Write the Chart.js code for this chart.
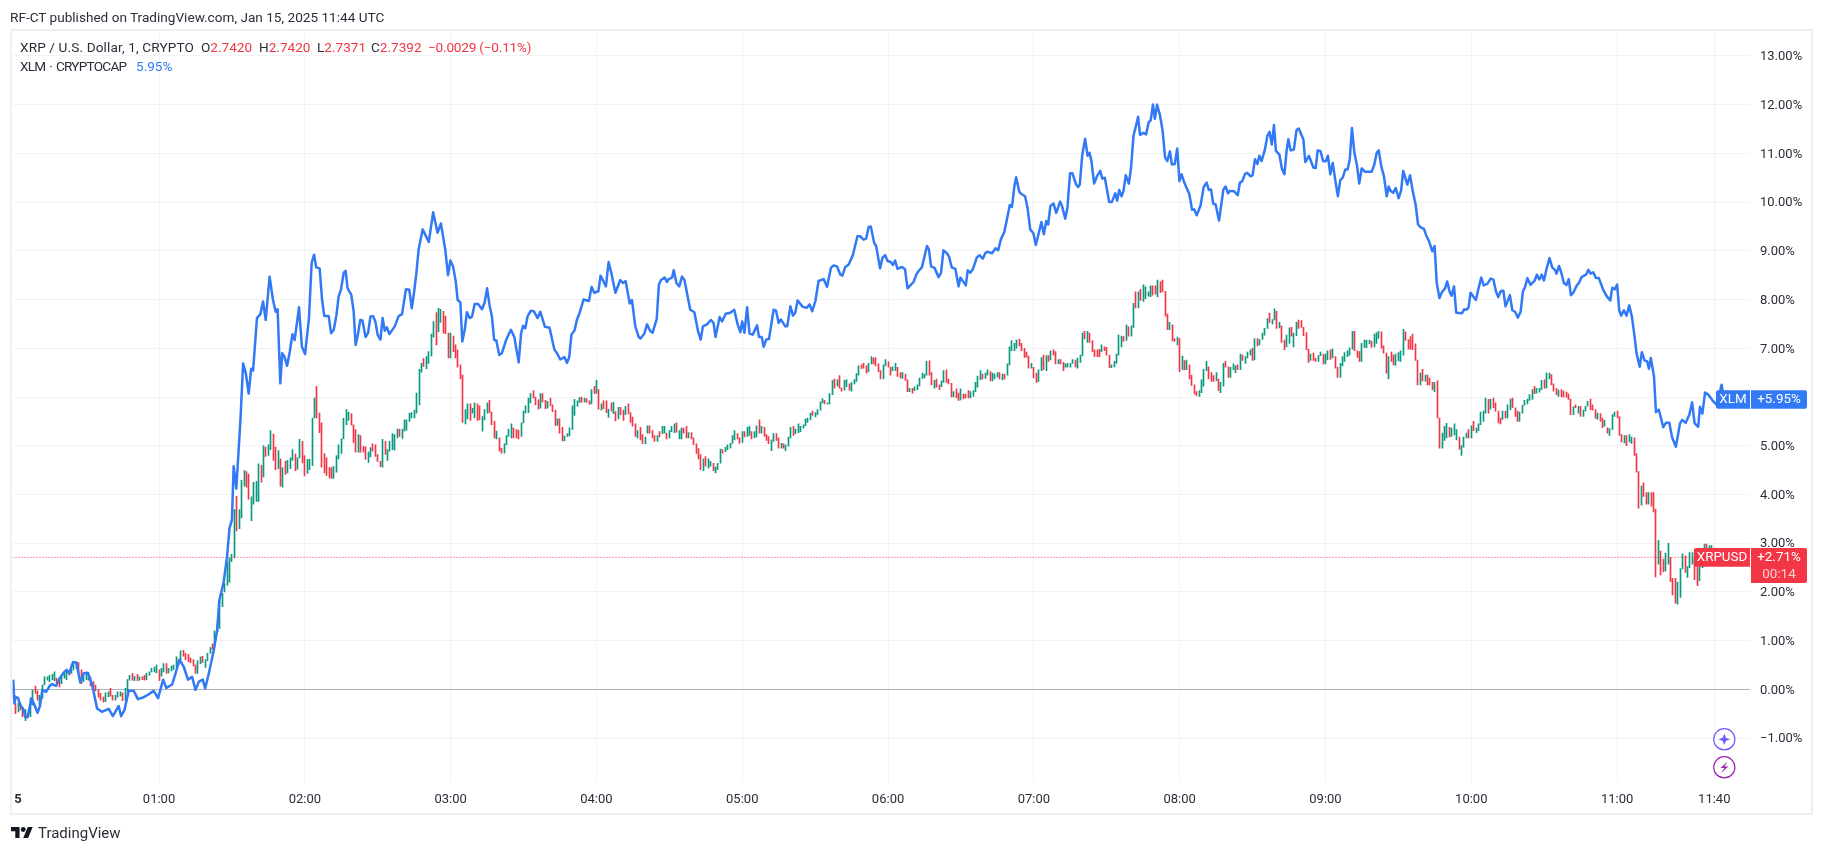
<!DOCTYPE html>
<html><head><meta charset="utf-8">
<script src="https://cdn.jsdelivr.net/npm/chart.js@4"></script>
<style>
html,body{margin:0;padding:0;background:#fff;overflow:hidden}
#wrap{position:relative;width:1824px;height:853px;font-family:Roboto,sans-serif;color:#131722}
canvas{position:absolute;left:0;top:0}
#frame{position:absolute;left:10px;top:29px;width:1799px;height:782px;border:2px solid #eff0f4;pointer-events:none}
.t{position:absolute;white-space:pre;font-size:13.6px;line-height:16px}
.r{color:#f23645}.b{color:#2e7bf6}
</style></head><body>
<div id="wrap">
<canvas id="c" width="1824" height="853"></canvas>
<div id="frame"></div>
<div class="t" style="left:10px;top:9px;color:#2a2e39">RF-CT published on TradingView.com, Jan 15, 2025 11:44 UTC</div>
<div class="t" style="left:20px;top:39px;color:#2a2e39;letter-spacing:.13px">XRP / U.S. Dollar, 1, CRYPTO</div>
<div class="t" style="left:201px;top:39px;color:#2a2e39">O<span class="r">2.7420</span></div>
<div class="t" style="left:259px;top:39px;color:#2a2e39">H<span class="r">2.7420</span></div>
<div class="t" style="left:317px;top:39px;color:#2a2e39">L<span class="r">2.7371</span></div>
<div class="t" style="left:371px;top:39px;color:#2a2e39">C<span class="r">2.7392</span></div>
<div class="t r" style="left:428px;top:39px;letter-spacing:-.2px">−0.0029 (−0.11%)</div>
<div class="t" style="left:20px;top:58px;color:#2a2e39;letter-spacing:-.75px;word-spacing:1.2px">XLM · CRYPTOCAP</div>
<div class="t b" style="left:136px;top:58px">5.95%</div>
<svg style="position:absolute;left:11px;top:827px" width="22" height="11" viewBox="0 4 36 18"><path d="M14 22H7V11H0V4h14v18zM28 22h-8l7.5-18h8L28 22z" fill="#131722"/><circle cx="20" cy="8" r="4" fill="#131722"/></svg>
<div class="t" style="left:38px;top:824px;font-size:15px;line-height:18px;color:#2a2e39">TradingView</div>
<svg style="position:absolute;left:1712px;top:727px" width="25" height="53" viewBox="0 0 25 53">
<circle cx="12.3" cy="12.3" r="10.6" fill="#fff" stroke="#6f5cff" stroke-width="1.2"/>
<path d="M12.3 6.5L13.9 10.7L18.1 12.3L13.9 13.9L12.3 18.1L10.7 13.9L6.5 12.3L10.7 10.7Z" fill="#6f5cff"/>
<circle cx="12.3" cy="40.3" r="10.6" fill="#fff" stroke="#9c27b0" stroke-width="1.2"/>
<path d="M15.5 34.5L8.5 41H12.5L9 46L16.5 39.5H12.5Z" fill="#9c27b0"/>
</svg>
</div>
<script>
const xrpLow=[
-.16,-.5,-.46,-.42,-.56,-.64,-.59,-.56,-.32,-.08,
-.22,-.32,-.18,.09,.19,.16,.2,.18,.14,.05,
.12,.23,.2,.29,.33,.4,.43,.33,.12,.16,
.2,.19,.07,0,-.03,-.16,-.22,-.26,-.25,-.15,
-.14,-.22,-.22,-.16,-.14,-.23,-.23,-.03,.19,.19,
.18,.18,.19,.2,.19,.2,.29,.36,.36,.34,
.18,.27,.36,.33,.34,.38,.41,.46,.5,.61,
.68,.61,.57,.55,.48,.33,.33,.53,.55,.45,
.59,.74,.82,.91,1.18,1.25,1.7,2.0,2.14,2.2,
2.62,2.7,3.25,3.3,3.52,4.17,4.15,3.9,3.46,3.8,
3.86,3.86,4.25,4.36,4.78,4.8,4.92,4.7,4.51,4.53,
4.17,4.15,4.41,4.44,4.53,4.7,4.49,4.52,4.75,4.65,
4.38,4.43,4.51,4.59,5.57,5.57,5.27,4.56,4.44,4.39,
4.34,4.33,4.33,4.46,4.73,4.84,5.14,5.43,5.52,5.42,
5.07,4.87,4.87,4.87,4.87,4.72,4.66,4.77,4.89,4.78,
4.68,4.57,4.56,4.82,4.7,4.89,4.92,4.91,5.16,5.19,
5.15,5.3,5.32,5.5,5.57,5.57,5.67,5.84,6.51,6.63,
6.58,6.69,6.84,7.23,7.07,7.34,7.53,7.31,7.3,6.8,
6.8,6.93,6.8,6.61,6.37,5.48,5.45,5.55,5.52,5.67,
5.57,5.52,5.53,5.3,5.53,5.67,5.68,5.43,5.16,5.14,
4.89,4.85,4.85,5.02,5.19,5.16,5.16,5.16,5.14,5.19,
5.47,5.67,5.68,5.88,5.98,5.84,5.75,5.77,5.9,5.76,
5.77,5.82,5.7,5.41,5.42,5.26,5.1,5.1,5.19,5.2,
5.33,5.62,5.81,5.89,5.89,5.9,5.89,5.85,5.86,6.07,
6.08,5.75,5.73,5.76,5.68,5.58,5.71,5.66,5.51,5.55,
5.64,5.52,5.64,5.66,5.48,5.4,5.19,5.16,5.12,5.04,
5.04,5.26,5.26,5.16,5.09,5.09,5.18,5.25,5.26,5.14,
5.16,5.29,5.27,5.28,5.14,5.14,5.26,5.16,5.16,5.14,
5.02,4.84,4.73,4.51,4.49,4.58,4.54,4.58,4.49,4.44,
4.51,4.64,4.85,4.88,4.92,4.95,5.05,5.12,5.14,5.05,
5.07,5.18,5.19,5.21,5.14,5.16,5.18,5.26,5.26,5.19,
5.11,5.04,4.9,5.09,5.11,4.95,4.95,4.95,4.9,4.99,
5.16,5.21,5.25,5.27,5.29,5.36,5.41,5.48,5.53,5.62,
5.59,5.64,5.73,5.88,5.86,5.86,5.86,6.05,6.18,6.22,
6.18,6.12,6.14,6.21,6.14,6.12,6.27,6.32,6.45,6.58,
6.59,6.49,6.52,6.68,6.68,6.64,6.52,6.37,6.37,6.64,
6.61,6.45,6.54,6.54,6.42,6.39,6.38,6.34,6.11,6.11,
6.08,6.13,6.15,6.23,6.38,6.39,6.45,6.45,6.25,6.18,
6.2,6.15,6.21,6.3,6.3,6.27,6,6,5.98,5.93,
5.94,5.96,5.98,5.98,5.98,6.01,6.11,6.2,6.35,6.37,
6.38,6.45,6.33,6.33,6.37,6.41,6.37,6.35,6.37,6.45,
6.66,6.95,6.95,7,7.05,6.95,6.81,6.82,6.59,6.59,
6.39,6.3,6.32,6.54,6.56,6.54,6.73,6.76,6.86,6.68,
6.68,6.68,6.54,6.61,6.61,6.61,6.69,6.62,6.59,6.71,
6.85,7.19,7.12,7.12,6.93,6.83,6.83,6.83,6.93,6.95,
6.86,6.6,6.6,6.62,6.69,6.86,7.03,7.14,7.16,7.25,
7.25,7.43,7.83,7.83,7.98,7.96,8.02,8.07,8.06,8.09,
8.11,8.06,8.14,8.16,7.66,7.38,7.38,7.15,7.14,7.07,
6.52,6.56,6.56,6.56,6.37,6.24,6.06,6.03,6.01,6.09,
6.22,6.54,6.37,6.32,6.32,6.33,6.13,6.09,6.22,6.61,
6.4,6.4,6.56,6.5,6.56,6.56,6.75,6.69,6.8,6.86,
6.75,6.76,7.05,7.07,7.18,7.27,7.41,7.53,7.5,7.58,
7.41,7.42,7.12,6.97,7.03,7.1,7.25,7.03,7.26,7.41,
7.43,7.26,6.97,6.71,6.75,6.75,6.73,6.73,6.85,6.68,
6.68,6.76,6.77,6.8,6.59,6.4,6.4,6.64,6.73,6.83,
6.86,6.98,6.95,6.81,6.73,6.73,7.02,7.01,7.09,7.02,
7.03,7.1,7.2,7,6.9,6.49,6.37,6.73,6.66,6.65,
6.74,6.73,6.86,7.16,6.98,6.98,6.97,6.75,6.25,6.25,
6.33,6.32,6.25,6.25,6.15,6.11,5.57,4.95,4.95,5.11,
5.16,5.18,5.19,5.22,5.12,4.93,4.8,4.97,5.16,5.16,
5.16,5.31,5.27,5.31,5.43,5.5,5.67,5.67,5.75,5.78,
5.71,5.47,5.45,5.54,5.57,5.57,5.74,5.78,5.6,5.5,
5.5,5.67,5.83,5.86,5.93,5.95,6.07,6.08,6.1,6.15,
6.18,6.18,6.37,6.25,6.12,6.05,6.01,6,6,5.99,
5.95,5.64,5.64,5.78,5.67,5.6,5.6,5.71,5.81,5.74,
5.73,5.56,5.54,5.5,5.37,5.4,5.26,5.21,5.33,5.6,
5.57,5.21,5.08,5.06,5,5.08,5.05,4.8,4.46,3.72,
3.78,3.96,3.8,3.8,3.76,3.64,2.31,2.57,2.35,2.41,
2.43,2.57,2.21,1.94,1.77,1.75,1.89,2.47,2.4,2.3,
2.5,2.57,2.25,2.13,2.23,2.5,2.78,2.91,2.81,2.84,
2.76,2.7,2.72,2.7,2.7];
const xrpHigh=[
.02,-.29,-.27,-.29,-.39,-.41,-.49,-.18,-.01,.07,
-.03,-.12,.09,.26,.26,.29,.31,.36,.23,.2,
.26,.34,.41,.36,.4,.57,.55,.55,.4,.29,
.33,.34,.26,.16,.09,0,-.08,-.16,-.07,-.05,
.02,-.12,-.12,-.05,-.05,-.07,.02,.2,.29,.33,
.27,.31,.26,.26,.29,.33,.36,.43,.46,.5,
.4,.43,.53,.53,.43,.48,.5,.67,.6,.79,
.8,.74,.72,.65,.61,.5,.59,.67,.68,.61,
.74,.86,.93,1.2,1.35,1.83,1.97,2.17,2.62,2.7,
2.77,3.69,3.96,3.69,4.29,4.49,4.47,4.42,3.95,4.25,
4.27,4.63,4.6,5,4.97,5.02,5.31,5.24,4.97,4.9,
4.73,4.55,4.68,4.7,4.75,4.92,4.83,4.75,5.13,5.09,
4.8,4.72,4.72,5.57,5.98,6.22,5.67,5.47,4.84,4.75,
4.55,4.55,4.58,4.8,5.02,5.14,5.56,5.74,5.69,5.66,
5.43,5.33,5.23,5.21,4.99,4.98,4.87,4.96,5.04,5.02,
4.82,4.68,5.13,5.09,4.92,5.09,5.25,5.23,5.34,5.34,
5.34,5.53,5.53,5.67,5.68,5.73,6.08,6.57,6.69,6.79,
6.83,6.93,7.29,7.55,7.73,7.82,7.8,7.76,7.66,7.31,
7.31,7.25,7.07,6.97,6.66,6.45,5.74,5.86,5.86,5.77,
5.88,5.86,5.82,5.6,5.74,5.88,5.93,5.69,5.5,5.3,
5.16,4.95,5.04,5.21,5.34,5.45,5.36,5.33,5.32,5.47,
5.71,5.82,5.98,6.07,6.13,6,5.94,6.07,6.07,5.93,
5.91,5.98,5.84,5.73,5.55,5.55,5.38,5.2,5.25,5.37,
5.82,5.95,5.92,5.99,6,5.98,5.97,5.92,6.15,6.22,
6.34,6.15,5.86,5.92,5.92,5.75,5.88,5.89,5.7,5.79,
5.79,5.73,5.81,5.86,5.68,5.59,5.45,5.31,5.38,5.23,
5.18,5.41,5.41,5.31,5.21,5.21,5.29,5.4,5.4,5.26,
5.31,5.4,5.45,5.47,5.31,5.36,5.36,5.4,5.27,5.27,
5.16,5.04,4.94,4.82,4.73,4.78,4.73,4.68,4.64,4.56,
4.64,4.93,4.92,4.97,5.02,5.05,5.21,5.31,5.25,5.16,
5.29,5.29,5.38,5.4,5.29,5.29,5.41,5.53,5.4,5.38,
5.23,5.19,5.12,5.25,5.25,5.16,5.05,5.04,5.02,5.18,
5.38,5.4,5.34,5.45,5.4,5.43,5.55,5.57,5.67,5.71,
5.68,5.74,5.9,5.97,5.93,5.88,6.07,6.34,6.37,6.36,
6.44,6.19,6.34,6.36,6.27,6.3,6.36,6.48,6.64,6.66,
6.69,6.64,6.69,6.83,6.8,6.81,6.68,6.54,6.66,6.77,
6.72,6.61,6.62,6.69,6.61,6.5,6.5,6.47,6.35,6.18,
6.18,6.21,6.25,6.39,6.49,6.47,6.73,6.74,6.5,6.34,
6.37,6.25,6.33,6.54,6.56,6.37,6.28,6.11,6.17,6.08,
6.17,6.06,6.06,6.13,6.11,6.13,6.3,6.43,6.54,6.47,
6.49,6.56,6.52,6.49,6.47,6.5,6.5,6.47,6.47,6.68,
7.03,7.16,7.1,7.17,7.19,7.1,7,6.92,6.84,6.69,
6.61,6.49,6.56,6.81,6.86,6.85,6.85,6.95,6.97,6.93,
6.77,6.77,6.71,6.68,6.69,6.69,6.77,6.76,6.8,6.86,
7.31,7.35,7.35,7.31,7.16,6.97,6.97,6.98,7.07,7.03,
7.02,6.86,6.66,6.73,6.88,7.27,7.25,7.24,7.48,7.44,
7.46,7.92,8.16,8.16,8.21,8.3,8.26,8.16,8.28,8.28,
8.28,8.4,8.37,8.4,8.17,7.7,7.53,7.48,7.2,7.23,
7.2,6.84,6.75,6.76,6.66,6.45,6.25,6.11,6.13,6.35,
6.57,6.73,6.62,6.5,6.44,6.5,6.37,6.3,6.69,6.73,
6.62,6.61,6.68,6.64,6.66,6.88,6.86,6.83,6.92,6.97,
7,7.2,7.2,7.18,7.31,7.41,7.61,7.72,7.59,7.81,
7.76,7.53,7.46,7.17,7.27,7.42,7.43,7.31,7.53,7.58,
7.57,7.43,7.32,6.98,6.88,6.9,6.8,6.85,6.92,6.88,
6.88,6.95,6.97,6.99,6.83,6.61,6.69,6.83,6.91,6.95,
7.01,7.35,7.35,6.95,6.93,7.1,7.17,7.17,7.17,7.15,
7.29,7.32,7.35,7.34,7.05,6.9,6.83,6.92,6.86,6.88,
6.91,6.95,7.39,7.34,7.18,7.24,7.29,7.09,6.76,6.49,
6.57,6.45,6.45,6.39,6.3,6.3,6.33,5.57,5.26,5.4,
5.46,5.38,5.36,5.45,5.33,5.18,5,5.18,5.26,5.33,
5.41,5.5,5.36,5.45,5.69,5.71,5.98,5.95,5.95,5.98,
5.88,5.71,5.57,5.71,5.71,5.84,5.96,5.98,5.78,5.71,
5.69,5.83,5.93,5.96,6.05,6.15,6.22,6.18,6.18,6.34,
6.35,6.49,6.49,6.46,6.27,6.18,6.14,6.15,6.12,6.1,
6.06,5.96,5.8,5.84,5.81,5.81,5.73,5.81,5.91,5.96,
5.84,5.74,5.67,5.66,5.57,5.52,5.37,5.35,5.64,5.69,
5.71,5.6,5.23,5.21,5.21,5.23,5.18,5.16,4.84,4.47,
4.17,4.24,4.04,4.04,4.04,4.04,3.7,3.06,2.84,2.67,
2.8,3,2.71,2.28,2.28,2.2,2.48,2.78,2.74,2.52,
2.81,2.81,2.67,2.52,2.57,2.78,2.98,2.98,2.95,2.95,
2.9,2.84,2.8,2.78,2.74];
const xrpDirection=`
d d u d d u d u u d
d u u u u u u u d d
u u u d u u u d d u
u u d d d d d d u u
d d u u u d u u u d
u d u d d u u u u u
d u u d u u u u d u
d d d d d d u u d u
u u d u u u u u u u
u u d u u u d d u u
u u d u d u u d d u
d u d u u u d u u d
d u u u u d d d d d
d d u u u u u u u d
d d u d d d u u d d
d d u d u u u u u d
u u u u u u u u u d
u u u u d u u d d d
u d d d d d u u d u
u d d u u u d d d u
d d u u u u d d d u
u u u u d d d u d d
u d d d u d d u u u
u u u u d u d d u d
u d u d d u d u d u
d d u d d d d u d d
u u d d d u d u u d
u u u d u u d d u d
d d d d u d u u d u
u u d u u u u u d d
u d u u d u u d u d
d d u u d d u d u u
u d u u u u u u u d
u u u u d u u u d u
d d u u d u u u u d
d d u u d d d d u u
d d u u d d u d d u
d u u u u u u d d u
d d u u d d d u d d
u d d d u u u u u d
u u d u u u d u d u
u u u u d d d d d u
d d u u d u d u d d
u d d u u u u d u u
u d u d d d d d u d
d d u u u u u d u d
u u d u d u u u u d
d u d d d d u d d u
d u d u d d d d u u
u u d d d u d u u d
d u u u d u d u u u
d u d u u u u d u u
d u d d u u d u u d
d d d d u d d u u d
u u d u d d u u u u
u u d d d u u u u d
u u u d d d u d d u
u u u d d d d d d u
d u d d d u d d u u
u d u u u d u u u d
u d u u u u u d u d
d d d u d u u d d d
u u u u u u d u u u
d u u d d d u d d d
d d u d u d u u u d
d d u d d u d u u u
d d d u d u u d d d
u d d u d d d u d d
u u d d d u u u d u
u u d d u u u d u u
u d u d d`.trim().split(/\s+/);

const xlmMinutes=[
0,.5,1,2,3,4,5,6,7.5,8.5,10,11,12,13.5,15,16,17.6,19,21,22,
23,24.6,26,27.6,29,30.7,32.5,34.5,36.5,39.3,41,43.4,44.4,45.8,47.5,49.6,51.3,53.7,55.8,57.8,
59.6,61.7,63,65.4,66.8,68.4,70.2,71.9,73.6,75,76.4,78,79,80.5,82.5,83.9,84.8,86.6,88,89,
90,90.7,91.8,93.5,94.6,95.7,96.9,97.9,98.7,100.3,101.7,102.8,103.9,105.5,106.9,108,108.8,109.9,110.7,111.6,
112.7,113.8,114.9,115.8,117.6,118.8,120.1,121.7,122.8,123.8,124.7,126.1,127.1,128,129.8,130.8,131.9,133,133.9,134.9,
136,136.8,137.6,139.1,140.1,140.9,141.7,142.8,143.7,145,146,147,148.1,149,150,151.1,152,152.9,153.8,154.8,
157,158.6,160,161.6,163,164,164.9,165.9,166.8,168.5,171,172.8,174.6,176,177.8,178.9,179.9,181,182.1,182.9,
184,184.8,185.8,186.7,187.8,188.8,189.9,191.3,192.9,194,195,196,197,197.9,198.8,200,201.1,202.9,204.8,206.2,
208,209,209.8,210.7,211.7,213,214.2,215.8,216.9,218.8,220.7,222.7,223.5,225.1,226.8,227.9,228.8,229.7,231,232,
233.1,234.7,236.9,238,239.1,240.8,241.7,243.9,245,246.1,247.8,249.8,250.9,252,253.7,254.6,256,257.4,258.1,259.7,
260.8,262.2,263.1,264.8,265.7,266.6,268.1,269,269.7,271.1,271.8,272.9,274.1,275.2,276.2,278.6,280.3,281.8,282.9,283.8,
285.5,287.1,288.2,289,290.7,291.7,293.2,295.1,296.7,298.1,299.2,300,300.9,302,303,304.3,306.1,306.9,308,308.8,
309.9,311,312.9,313.9,315,315.9,317.7,318.5,319.8,320.9,321.8,322.8,324.9,326.6,327.7,328.8,330.1,331.4,333.5,334.9,
336.5,337.6,339,340.4,341.2,342.4,343.8,345.5,347.4,348.5,349.9,351,352,352.9,354.3,355.1,356.7,357.7,358.8,359.8,
361.1,362,362.9,363.9,365.7,367,368,370.5,371.6,372.5,373.9,374.9,376,376.8,377.7,379.1,380.8,381.8,382.8,384.2,
385.1,386.2,387.7,389,389.8,392,392.8,393.8,394.9,396.5,397.6,399,400.1,400.9,402.8,404.2,405.3,406.4,407.8,408.9,
410.1,411,412,412.7,414,415,416.4,417.4,418.5,419.8,420.8,421.9,423.1,424.1,425.1,425.9,426.8,428.1,429.2,430.8,
431.6,432.9,433.8,434.9,435.9,437.4,438.2,438.9,439.9,441.1,442.1,442.9,443.7,444.8,445.9,447.3,448.2,449.2,451,452.1,
453.5,454.3,455.1,456.1,456.9,457.8,459.1,460,461,462,462.9,463.7,465.1,466.2,467.2,468.1,469,469.8,470.7,471.9,
473,474,474.9,476,476.8,478,479,479.9,480.8,481.9,484,485.1,486,487,488.6,489.9,491.1,492,492.9,493.8,
494.8,496.2,498,498.9,499.9,500.7,502.4,503.9,504.8,505.8,506.9,507.8,509.2,510,511,512,512.8,513.7,515.1,516.1,
517,517.9,518.8,519.6,521,522.1,523.1,524,524.7,525.7,527,528.1,529,530.9,531.7,533.2,535,536,536.8,537.9,
539.1,540.2,541,542,543,544.2,545.1,546.1,547.1,548.2,549.1,550,550.9,551.9,553,553.9,554.9,556.3,559,560.1,
561.1,561.9,563,564.1,565.2,566,566.8,567.9,568.9,570.1,571.1,572,573.7,574.8,575.9,577.1,578.1,579.2,580.5,581.6,
582.6,584,584.9,585.8,586.9,587.8,589.2,590.1,591.2,591.9,592.9,593.8,596.2,597.1,598.1,598.9,599.7,601.9,603,604.1,
605.1,606.6,608,609.1,610.2,611.1,612.1,613.2,614.1,615.9,616.9,618,619.2,620.3,621.3,622.1,623.1,624.4,626.1,627,
628,629,629.9,631,632.2,633.3,634.4,635.1,636.1,637,638.1,639.2,640.1,641,642,643.4,644.3,645.4,647.2,648.2,
649.1,650.2,651.3,652.5,654.3,655.7,657.2,658,659.1,660,660.9,661.7,662.8,663.9,665,666.1,667.2,668,669.3,670.2,
671.3,672.4,673.1,673.9,675.2,676,677.2,679,680.1,681.5,682.6,684.2,685.9,686.8,688.2,689.7,690.9,691.9,693.4,694.1,
695.1,696.2,697.5,699.6,701,703,704];
const xlmPercent=[
.2,-.29,-.15,-.18,-.34,-.39,-.57,-.56,-.18,-.29,-.48,-.34,-.01,-.05,.07,.11,.07,.22,.36,.4,
.33,.56,.55,.14,.33,.34,.09,-.39,-.46,-.4,-.55,-.34,-.55,-.42,-.03,-.03,-.2,-.16,-.1,-.03,
-.18,.2,.03,.1,.33,.61,.46,.2,.26,-.01,.16,.2,.02,.33,.8,1.21,1.83,2.2,2.73,3.31,
3.48,4.58,4.12,5.53,6.69,6.49,6.07,6.58,6.54,7.62,7.7,7.96,7.58,8.47,7.99,7.75,7.8,6.28,6.9,6.83,
6.64,6.93,7.29,7.17,7.84,7.03,6.88,7.62,8.75,8.92,8.66,8.64,7.99,7.66,7.66,7.31,7.38,7.68,8.06,8.21,
8.55,8.59,8.23,8.1,7.75,7.07,7.24,7.58,7.57,7.23,7.31,7.65,7.66,7.55,7.27,7.18,7.62,7.36,7.43,7.29,
7.45,7.66,7.7,8.21,8.2,7.82,8.13,8.54,9.02,9.44,9.18,9.79,9.37,9.56,9.02,8.5,8.8,8.68,8.37,7.99,
7.94,7.14,7.38,7.74,7.62,7.65,7.91,7.91,7.8,7.94,8.23,7.89,7.65,7.17,7.16,6.86,6.9,7.18,7.38,7.23,
6.71,7.31,7.46,7.41,7.66,7.77,7.76,7.62,7.75,7.44,7.42,6.97,6.92,6.77,6.82,6.7,6.82,7.28,7.37,7.59,
7.73,8,7.97,8.26,8.14,8.17,8.49,8.27,8.77,8.55,8.14,8.4,8.34,8.38,7.92,7.99,7.45,7.23,7.2,7.3,
7.49,7.35,7.32,7.6,8.31,8.4,8.45,8.36,8.42,8.45,8.6,8.34,8.27,8.47,8.4,7.79,7.74,7.35,7.18,7.45,
7.49,7.58,7.52,7.23,7.64,7.55,7.71,7.73,7.79,7.49,7.33,7.55,7.32,7.84,7.3,7.28,7.47,7.23,7.23,7.03,
7.18,7.19,7.79,7.77,7.52,7.59,7.45,7.45,7.86,7.67,7.73,7.98,7.85,7.83,7.9,7.76,7.97,8.38,8.42,8.26,
8.65,8.7,8.68,8.51,8.49,8.67,8.72,8.91,9.3,9.3,9.23,9.25,9.49,9.5,9.16,9.1,8.64,8.86,8.91,8.79,
8.77,8.71,8.8,8.63,8.67,8.62,8.23,8.36,8.51,8.58,8.66,8.86,9.1,9.03,8.68,8.65,8.46,8.55,9.01,8.95,
8.88,8.66,8.63,8.27,8.45,8.29,8.6,8.55,8.62,8.86,8.91,8.84,8.96,8.98,8.95,9.05,9.01,9.23,9.38,9.64,
9.94,9.9,10.33,10.51,10.21,10.16,10.12,9.88,9.44,9.36,9.12,9.34,9.59,9.34,9.61,9.54,9.92,9.97,9.78,10.01,
9.92,9.66,9.88,10.59,10.59,10.36,10.31,10.36,10.96,11.3,10.95,11.01,10.84,10.38,10.52,10.64,10.48,10.5,10,10,
10.18,10.03,10.25,10.12,10.23,10.55,10.38,10.71,11.36,11.56,11.75,11.38,11.42,11.39,11.63,11.68,12,11.71,12,11.78,
11.46,10.92,10.84,11.04,10.77,10.78,11.1,10.43,10.57,10.4,10.16,9.84,9.85,9.73,9.93,10.31,10.4,10.25,10.26,9.97,
9.95,9.62,10.26,10.32,10.18,10.23,10.22,10.14,10.4,10.43,10.58,10.6,10.53,10.55,10.88,10.78,10.95,10.84,11.08,11.36,
11.44,11.18,11.58,11.05,10.98,10.68,10.57,11.05,11.29,11.06,11.08,11.48,11.51,11.29,10.82,10.95,10.71,10.7,11.06,11.05,
10.84,10.84,10.95,10.57,10.8,10.4,10.12,10.45,10.5,10.67,10.67,10.88,11.52,11.01,10.74,10.38,10.69,10.62,10.62,10.77,
11.01,11.06,10.73,10.52,10.12,10.32,10.23,10.19,10.29,10.08,10.23,10.64,10.36,10.55,10.23,9.95,9.54,9.48,9.45,9.3,
9.2,8.99,9.1,8.34,8.03,8.14,8.23,8.37,8.14,8.08,8.27,7.73,7.72,7.8,7.79,7.84,8.14,7.99,8.23,8.45,
8.29,8.32,8.43,8.41,8.16,8.05,8.17,8.18,7.86,8.09,7.78,7.75,7.63,7.75,8.18,8.25,8.44,8.3,8.39,8.51,
8.41,8.51,8.39,8.63,8.85,8.66,8.61,8.53,8.69,8.56,8.34,8.3,8.42,8.09,8.14,8.29,8.34,8.46,8.51,8.61,
8.53,8.56,8.44,8.44,8.2,8.07,7.98,8.24,8.21,8.31,7.78,7.67,7.78,7.67,7.88,7.65,7.24,6.9,6.62,6.92,
6.75,6.73,6.58,6.8,6.42,5.69,5.74,5.38,5.47,5.47,5.18,4.98,5.46,5.53,5.47,5.63,5.89,5.46,5.39,5.8,
5.66,6.09,6.05,5.91,5.84,6.25,5.95];

const xTickMinutes=[0,60,120,180,240,300,360,420,480,540,600,660,700];
const xTickLabels=["\u00a0\u00a0\u00a05","01:00","02:00","03:00","04:00","05:00","06:00","07:00","08:00","09:00","10:00","11:00","11:40"];
const yTickValues=[13,12,11,10,9,8,7,6,5,4,3,2,1,0,-1];
const yTickLabels=["13.00%","12.00%","11.00%","10.00%","9.00%","8.00%","7.00%","6.00%","5.00%","4.00%","3.00%","2.00%","1.00%","0.00%","−1.00%"];
const lastXrpPercent=2.71, lastXlmPercent=5.95;
const xMin=-0.3, xMax=714.7, yMin=-1.9, yMax=13.49;
const UP="#089981", DOWN="#f23645", BLUE="#3179f5", GRID="#f2f3f5", TEXT="#2a2e39";
const FONT="Roboto, sans-serif";

const candles=xrpLow.map((l,i)=>({x:i,y:[l,xrpHigh[i]]}));
function box(ctx,x,y,w,h,c,rl,rr){ctx.fillStyle=c;ctx.beginPath();ctx.roundRect(x,y,w,h,[rl,rr,rr,rl]);ctx.fill();}
const snapBars={id:'snapBars',afterDatasetsUpdate(ch){
  ch.getSortedVisibleDatasetMetas().forEach(m=>{if(m.type==='bar')m.data.forEach(b=>{b.x=Math.floor(b.x)+.5;b.width=1;});});
}};
const priceLabels={id:'priceLabels',afterDatasetsDraw(ch){
  const c=ch.ctx,ys=ch.scales.y,r=ch.chartArea.right;
  c.save();c.textBaseline='middle';c.font="13.4px "+FONT;
  const yb=ys.getPixelForValue(lastXlmPercent);
  box(c,r-34,yb-9.3,34,18.6,BLUE,2,0);box(c,r+1,yb-9.3,56,18.6,BLUE,0,2);
  c.fillStyle='#fff';c.textAlign='center';c.fillText("XLM",r-17,yb+.5);c.fillText("+5.95%",r+29,yb+.5);
  const yr=ys.getPixelForValue(lastXrpPercent);
  box(c,r-56,yr-9.3,56,18.6,DOWN,2,0);box(c,r+1,yr-9.3,56,35,DOWN,0,2);
  c.fillStyle='#fff';c.fillText("XRPUSD",r-28,yr+.5);c.fillText("+2.71%",r+29,yr+.5);
  c.fillStyle='#fbd0d5';c.fillText("00:14",r+29,yr+17);
  c.restore();
}};

new Chart(document.getElementById('c'),{
 type:'bar',
 plugins:[snapBars,priceLabels],
 data:{datasets:[
  {type:'line',label:'XLM',data:xlmMinutes.map((m,i)=>({x:m,y:xlmPercent[i]})),borderColor:BLUE,borderWidth:2.5,pointRadius:0,tension:0,borderJoinStyle:'round',order:1},
  {type:'line',label:'Last',data:[{x:xMin,y:lastXrpPercent},{x:xMax,y:lastXrpPercent}],borderColor:DOWN,borderWidth:1,borderDash:[1,2],pointRadius:0,order:2},
  {type:'bar',label:'XRPUSD',data:candles,backgroundColor:xrpDirection.map(d=>d==='u'?UP:DOWN),barThickness:1,minBarLength:1,order:3}
 ]},
 options:{
  responsive:false,animation:false,devicePixelRatio:1,
  layout:{padding:{left:12.5,top:32,right:0,bottom:0}},
  plugins:{legend:{display:false},tooltip:{enabled:false}},
  scales:{
   x:{type:'linear',min:xMin,max:xMax,offset:false,
    afterBuildTicks(s){s.ticks=xTickMinutes.map(v=>({value:v}));},
    afterFit(s){s.height=71;s.paddingLeft=0;s.paddingRight=0;},
    border:{display:false},
    grid:{offset:false,color:c=>c.tick&&c.tick.value===0?'rgba(0,0,0,0)':GRID,lineWidth:1,drawTicks:false},
    ticks:{autoSkip:false,maxRotation:0,padding:10,color:TEXT,
      font:c=>({family:FONT,size:13,weight:c.index===0?'bold':'normal'}),
      callback:v=>xTickLabels[xTickMinutes.indexOf(v)]}},
   y:{type:'linear',position:'right',min:yMin,max:yMax,
    afterBuildTicks(s){s.ticks=yTickValues.map(v=>({value:v}));},
    afterFit(s){s.width=74;s.paddingTop=0;s.paddingBottom=0;},
    border:{display:false},
    grid:{offset:false,color:c=>c.tick&&c.tick.value===0?'#b2b1c0':GRID,lineWidth:1,drawTicks:false},
    ticks:{autoSkip:false,padding:10,labelOffset:1,color:TEXT,font:{family:FONT,size:13},
      callback:v=>yTickLabels[yTickValues.indexOf(v)]}}
  }
 }
});
</script>
</body></html>
